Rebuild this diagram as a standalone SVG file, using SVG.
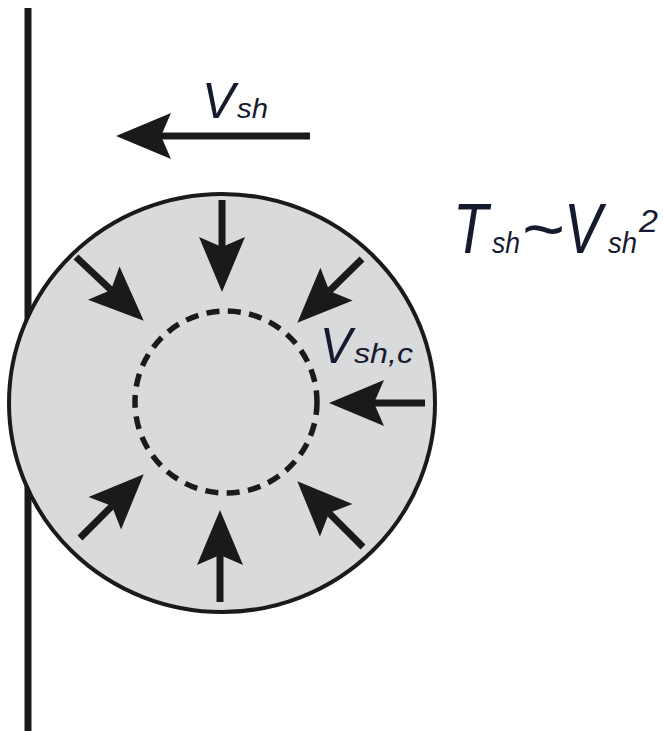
<svg xmlns="http://www.w3.org/2000/svg" width="663" height="731" viewBox="0 0 663 731">
<style>
.sh{stroke:#1a1a1a;stroke-width:7;fill:none;marker-end:url(#ah)}
.t{font-family:"Liberation Sans",Arial,sans-serif;font-style:italic;fill:#161a2e}
</style>
<defs>
<marker id="ah" markerUnits="userSpaceOnUse" markerWidth="60" markerHeight="60" refX="0" refY="0" orient="auto" overflow="visible">
<path d="M45,0 L-10,-23 L0,0 L-10,23 Z" fill="#1a1a1a"/>
</marker>
</defs>
<rect width="663" height="731" fill="#fff"/>
<g id="wall"><line x1="28" y1="8" x2="28" y2="731" stroke="#1a1a1a" stroke-width="7"/></g>
<g id="bubble"><ellipse cx="222" cy="403" rx="213" ry="209" fill="#d9dadc" stroke="#1a1a1a" stroke-width="4"/></g>
<g id="core"><circle cx="226" cy="402" r="91" fill="none" stroke="#1a1a1a" stroke-width="5.5" stroke-dasharray="13 8.5"/></g>
<g id="connectors">
<line class="sh" x1="310" y1="136" x2="161" y2="136"/>
<line class="sh" x1="222" y1="200" x2="222" y2="247"/>
<line class="sh" x1="76" y1="257" x2="111" y2="290"/>
<line class="sh" x1="362" y1="259" x2="329.4" y2="291.1"/>
<line class="sh" x1="425" y1="403" x2="374" y2="403"/>
<line class="sh" x1="363" y1="547" x2="329.1" y2="513.1"/>
<line class="sh" x1="220" y1="602" x2="220" y2="555"/>
<line class="sh" x1="80" y1="538" x2="111.9" y2="506.1"/>
</g>
<g id="labels">
<text class="t" y="118"><tspan x="202" font-size="50" textLength="33" lengthAdjust="spacingAndGlyphs">V</tspan><tspan x="237" font-size="28" textLength="31" lengthAdjust="spacingAndGlyphs">sh</tspan></text>
<text class="t" y="253"><tspan x="453" font-size="70" textLength="35" lengthAdjust="spacingAndGlyphs">T</tspan><tspan x="492" font-size="30" textLength="28" lengthAdjust="spacingAndGlyphs">sh</tspan><tspan x="521" font-size="70" textLength="43" lengthAdjust="spacingAndGlyphs">~</tspan><tspan x="564" font-size="70" textLength="38" lengthAdjust="spacingAndGlyphs">V</tspan><tspan x="608" font-size="30" textLength="29" lengthAdjust="spacingAndGlyphs">sh</tspan><tspan x="639" y="232" font-size="31" textLength="19" lengthAdjust="spacingAndGlyphs">2</tspan></text>
<text class="t" y="363"><tspan x="320" font-size="50" textLength="32" lengthAdjust="spacingAndGlyphs">V</tspan><tspan x="354" font-size="28" textLength="59" lengthAdjust="spacingAndGlyphs">sh,c</tspan></text>
</g>
</svg>
